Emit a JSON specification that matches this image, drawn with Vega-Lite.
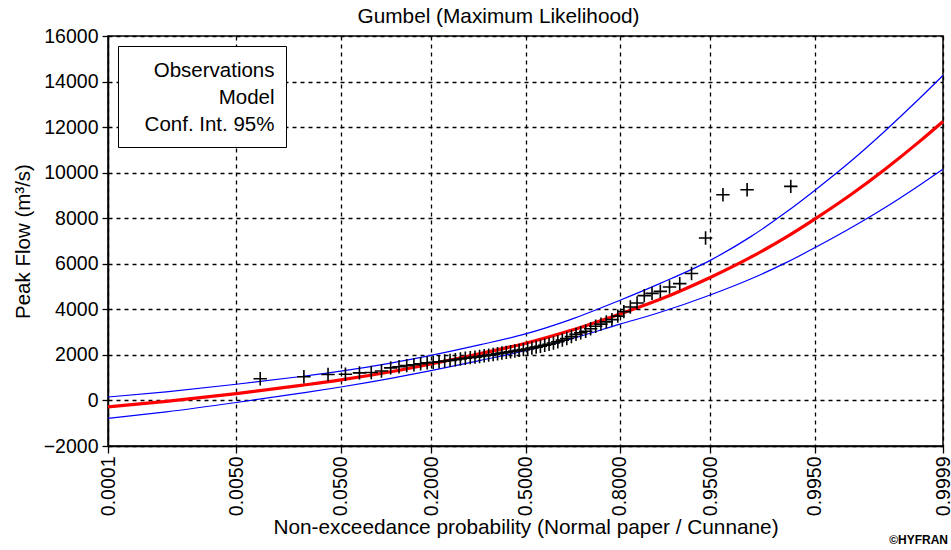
{
  "$schema": "https://vega.github.io/schema/vega-lite/v6.json",
  "width": 835,
  "height": 410,
  "autosize": {"type": "none"},
  "padding": {"left": 108, "top": 36, "right": 8, "bottom": 104},
  "background": "white",
  "title": {"text": "Gumbel (Maximum Likelihood)", "fontSize": 20.8, "font": "Liberation Sans", "fontWeight": "normal", "color": "black", "anchor": "middle", "dx": -27, "offset": -2},
  "config": {"view": {"stroke": "black", "strokeWidth": 1.5}, "font": "Liberation Sans"},
  "datasets": {
    "curves": [
      {"z": -3.719, "model": -280, "upper": 150, "lower": -790},
      {"z": -3.2, "model": -40, "upper": 380, "lower": -500},
      {"z": -2.576, "model": 300, "upper": 710, "lower": -90},
      {"z": -2.0, "model": 660, "upper": 1050, "lower": 320},
      {"z": -1.645, "model": 900, "upper": 1285, "lower": 590},
      {"z": -1.2, "model": 1260, "upper": 1640, "lower": 970},
      {"z": -0.842, "model": 1600, "upper": 1980, "lower": 1310},
      {"z": -0.4, "model": 2060, "upper": 2450, "lower": 1760},
      {"z": 0, "model": 2510, "upper": 2920, "lower": 2180},
      {"z": 0.4, "model": 3070, "upper": 3550, "lower": 2690},
      {"z": 0.842, "model": 3800, "upper": 4400, "lower": 3350},
      {"z": 1.2, "model": 4440, "upper": 5140, "lower": 3870},
      {"z": 1.645, "model": 5400, "upper": 6150, "lower": 4630},
      {"z": 2.0, "model": 6270, "upper": 7170, "lower": 5320},
      {"z": 2.326, "model": 7180, "upper": 8280, "lower": 6060},
      {"z": 2.576, "model": 7960, "upper": 9220, "lower": 6700},
      {"z": 2.9, "model": 9040, "upper": 10510, "lower": 7580},
      {"z": 3.2, "model": 10140, "upper": 11820, "lower": 8460},
      {"z": 3.5, "model": 11330, "upper": 13210, "lower": 9420},
      {"z": 3.719, "model": 12250, "upper": 14270, "lower": 10150}
    ],
    "obs": [
      {"z": -2.363, "flow": 950}, {"z": -1.974, "flow": 1040}, {"z": -1.759, "flow": 1140}, {"z": -1.604, "flow": 1150},
      {"z": -1.479, "flow": 1210}, {"z": -1.374, "flow": 1230}, {"z": -1.283, "flow": 1290}, {"z": -1.201, "flow": 1430},
      {"z": -1.127, "flow": 1480}, {"z": -1.058, "flow": 1530}, {"z": -0.994, "flow": 1570}, {"z": -0.934, "flow": 1610},
      {"z": -0.876, "flow": 1650}, {"z": -0.822, "flow": 1680}, {"z": -0.770, "flow": 1700}, {"z": -0.720, "flow": 1730},
      {"z": -0.672, "flow": 1760}, {"z": -0.625, "flow": 1790}, {"z": -0.580, "flow": 1820}, {"z": -0.536, "flow": 1850},
      {"z": -0.492, "flow": 1880}, {"z": -0.450, "flow": 1900}, {"z": -0.409, "flow": 1930}, {"z": -0.368, "flow": 1960},
      {"z": -0.328, "flow": 1990}, {"z": -0.288, "flow": 2020}, {"z": -0.249, "flow": 2050}, {"z": -0.210, "flow": 2080},
      {"z": -0.171, "flow": 2110}, {"z": -0.133, "flow": 2140}, {"z": -0.095, "flow": 2170}, {"z": -0.057, "flow": 2200},
      {"z": -0.019, "flow": 2230}, {"z": 0.019, "flow": 2260}, {"z": 0.057, "flow": 2300}, {"z": 0.095, "flow": 2340},
      {"z": 0.133, "flow": 2380}, {"z": 0.171, "flow": 2420}, {"z": 0.210, "flow": 2470}, {"z": 0.249, "flow": 2520},
      {"z": 0.288, "flow": 2580}, {"z": 0.328, "flow": 2650}, {"z": 0.368, "flow": 2720}, {"z": 0.409, "flow": 2800},
      {"z": 0.450, "flow": 2900}, {"z": 0.492, "flow": 2970}, {"z": 0.536, "flow": 3040}, {"z": 0.580, "flow": 3150},
      {"z": 0.625, "flow": 3260}, {"z": 0.672, "flow": 3350}, {"z": 0.720, "flow": 3450}, {"z": 0.770, "flow": 3550},
      {"z": 0.822, "flow": 3700}, {"z": 0.876, "flow": 3900}, {"z": 0.934, "flow": 4100}, {"z": 0.994, "flow": 4280},
      {"z": 1.058, "flow": 4600}, {"z": 1.127, "flow": 4700}, {"z": 1.201, "flow": 4790}, {"z": 1.283, "flow": 4980},
      {"z": 1.374, "flow": 5130}, {"z": 1.479, "flow": 5570}, {"z": 1.604, "flow": 7130}, {"z": 1.759, "flow": 9030},
      {"z": 1.974, "flow": 9250}, {"z": 2.363, "flow": 9400}
    ]
  },
  "layer": [
    {
      "encoding": {
        "x": {
          "field": "z", "type": "quantitative",
          "scale": {"domain": [-3.719, 3.719], "nice": false, "zero": false},
          "axis": {
            "values": [-3.719, -2.5758, -1.6449, -0.8416, 0, 0.8416, 1.6449, 2.5758, 3.719],
            "labelExpr": "format(cumulativeNormal(datum.value), '.4f')",
            "labelAngle": -90, "labelFontSize": 19.5, "labelColor": "black", "labelFont": "Liberation Sans",
            "labelPadding": 3,
            "title": "Non-exceedance probability (Normal paper / Cunnane)",
            "titleFontSize": 20.8, "titleFontWeight": "normal", "titleColor": "black", "titleFont": "Liberation Sans", "titlePadding": 2,
            "grid": true, "gridColor": "black", "gridDash": [4, 4], "gridWidth": 1.3,
            "tickColor": "black", "tickSize": 7, "tickWidth": 1.3,
            "domainColor": "black", "domainWidth": 1.5
          }
        }
      },
      "layer": [
        {
          "data": {"name": "curves"},
          "mark": {"type": "line", "strokeWidth": 1.2, "interpolate": "monotone"},
          "encoding": {
            "y": {
              "field": "upper", "type": "quantitative", "title": "Peak Flow (m³/s)",
              "scale": {"domain": [-2000, 16000], "nice": false},
              "axis": {
                "values": [-2000, -1000, 0, 1000, 2000, 3000, 4000, 5000, 6000, 7000, 8000, 9000, 10000, 11000, 12000, 13000, 14000, 15000, 16000],
                "labelExpr": "datum.value % 2000 === 0 ? format(datum.value, 'd') : ''",
                "labelFontSize": 19.5, "labelColor": "black", "labelFont": "Liberation Sans", "labelPadding": 4,
                "title": "Peak Flow (m³/s)", "titleFontSize": 20.5, "titleFontWeight": "normal", "titleColor": "black", "titleFont": "Liberation Sans", "titlePadding": 10,
                "grid": true, "gridColor": "black", "gridDash": [4, 4], "gridWidth": 1.3,
                "gridOpacity": {"condition": {"test": "datum.value % 2000 !== 0", "value": 0}, "value": 1},
                "tickSize": {"condition": {"test": "datum.value % 2000 !== 0", "value": 3}, "value": 6},
                "tickColor": "black", "tickWidth": 1.3,
                "domainColor": "black", "domainWidth": 1.5
              }
            },
            "color": {
              "datum": "Conf. Int. 95%",
              "scale": {"domain": ["Observations", "Model", "Conf. Int. 95%"], "range": ["black", "#ff0000", "#0000ff"]},
              "legend": {
                "title": " ", "titleFontSize": 2, "titlePadding": 2,
                "orient": "top-left", "offset": 10,
                "strokeColor": "black", "fillColor": "white", "padding": 11,
                "labelFontSize": 20.5, "labelColor": "black", "labelFont": "Liberation Sans",
                "labelAlign": "right", "labelOffset": 125, "labelLimit": 300,
                "symbolOpacity": 0, "symbolStrokeWidth": 0, "symbolSize": 100,
                "rowPadding": 6
              }
            }
          }
        },
        {
          "data": {"name": "curves"},
          "mark": {"type": "line", "strokeWidth": 1.2, "interpolate": "monotone"},
          "encoding": {
            "y": {"field": "lower", "type": "quantitative", "title": "Peak Flow (m³/s)"},
            "color": {"datum": "Conf. Int. 95%"}
          }
        },
        {
          "data": {"name": "curves"},
          "mark": {"type": "line", "strokeWidth": 3.2, "interpolate": "monotone"},
          "encoding": {
            "y": {"field": "model", "type": "quantitative", "title": "Peak Flow (m³/s)"},
            "color": {"datum": "Model"}
          }
        },
        {
          "data": {"name": "obs"},
          "mark": {"type": "point", "shape": "M-1,0H1M0,-1V1", "filled": false, "size": 180, "strokeWidth": 1.6, "opacity": 1},
          "encoding": {
            "y": {"field": "flow", "type": "quantitative", "title": "Peak Flow (m³/s)"},
            "color": {"datum": "Observations"}
          }
        }
      ]
    },
    {
      "data": {"values": [{"label": "©HYFRAN"}]},
      "mark": {"type": "text", "align": "right", "baseline": "middle", "fontSize": 12, "fontWeight": "bold", "font": "Liberation Sans", "dy": 94, "dx": 5, "color": "black"},
      "encoding": {
        "x": {"datum": 3.719, "type": "quantitative"},
        "y": {"datum": -2000, "type": "quantitative"},
        "text": {"field": "label"}
      }
    }
  ]
}
